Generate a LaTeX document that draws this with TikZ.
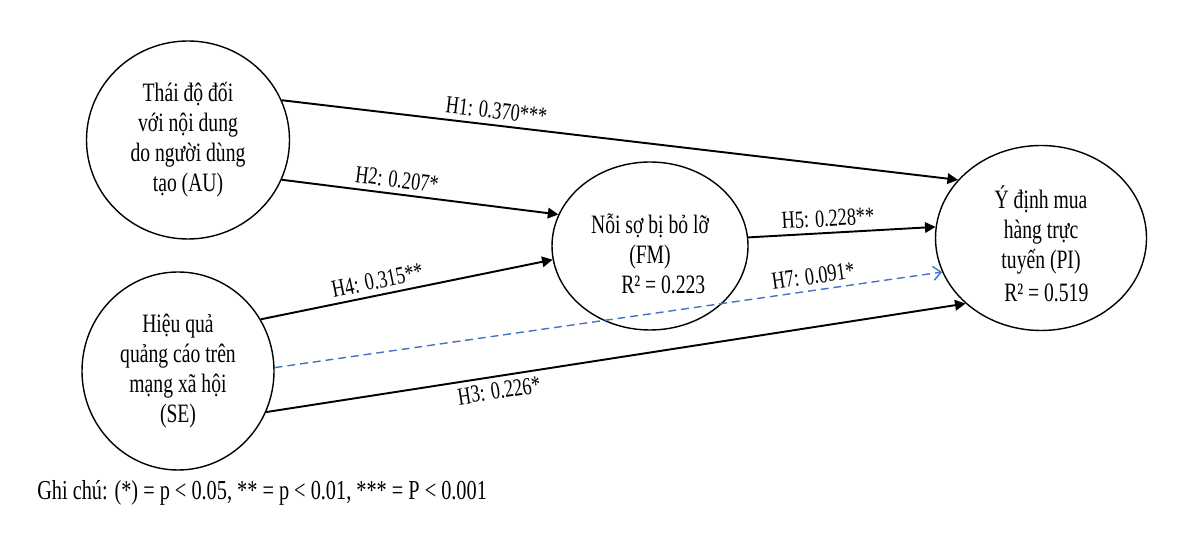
\documentclass[tikz,border=0pt]{standalone}
\usepackage{fontspec}
\setmainfont[FakeStretch=0.74]{Liberation Serif}
\usetikzlibrary{shapes.geometric,arrows.meta}

\begin{document}
\begin{tikzpicture}[font=\fontsize{15.1}{17}\selectfont,
  construct/.style={draw,ellipse,line width=.8pt,inner sep=0pt,align=center},
  effect/.style={line width=1.1pt,-{Triangle[length=6pt,width=6pt]}},
  mediated/.style={line width=.8pt,dash pattern=on 4.5pt off 2.8pt,color=hblue,-{Straight Barb[length=4.5pt,width=8pt]}},
  hyp/.style={sloped,inner sep=3pt,font=\fontsize{14}{16}\selectfont}]
\definecolor{hblue}{RGB}{68,114,196}

\useasboundingbox (0,0) rectangle (24,10.66);

% constructs
\node[construct,minimum width=4.06cm,minimum height=3.96cm] (au) at (3.76,7.86)
  {Thái độ đối\\với nội dung\\do người dùng\\tạo (AU)};
\node[construct,minimum width=3.84cm,minimum height=3.96cm] (se) at (3.56,3.24)
  {Hiệu quả\\quảng cáo trên\\mạng xã hội\\(SE)};
\node[construct,minimum width=3.92cm,minimum height=3.36cm] (fm) at (13.0,5.74)
  {\rule{0pt}{20pt}Nỗi sợ bị bỏ lỡ\\(FM)\\\hspace*{1em}R² = 0.223};
\node[construct,minimum width=4.22cm,minimum height=3.7cm] (pi) at (20.82,5.90)
  {\rule{0pt}{20pt}Ý định mua\\hàng trực\\tuyến (PI)\\[2pt]\hspace*{.4em}R² = 0.519};

% paths
\draw[effect] (au.23.6) -- node[hyp,above,pos=.315] {H1: 0.370***} (pi.145);
\draw[effect] (au.-23.6) -- node[hyp,above,pos=.41] {H2: 0.207*} (fm.161.4);
\draw[effect] (se.32.4) -- node[hyp,above,pos=.41] {H4: 0.315**} (fm.188.4);
\draw[effect] (fm.5.3) -- node[hyp,above,pos=.43] {H5: 0.228**} (pi.174.6);
\draw[effect] (se.-25.8) -- node[hyp,below,pos=.33] {H3: 0.226*} (pi.-139);
\draw[mediated] (se.2.4) -- node[hyp,above,pos=.81,text=black] {H7: 0.091*} (pi.-161);

\node[anchor=west,inner sep=0pt,font=\fontsize{15.6}{17}\selectfont] (note) at (0.74,0.8)
  {Ghi chú: (*) = p < 0.05, ** = p < 0.01, *** = P < 0.001};

\end{tikzpicture}
\end{document}
